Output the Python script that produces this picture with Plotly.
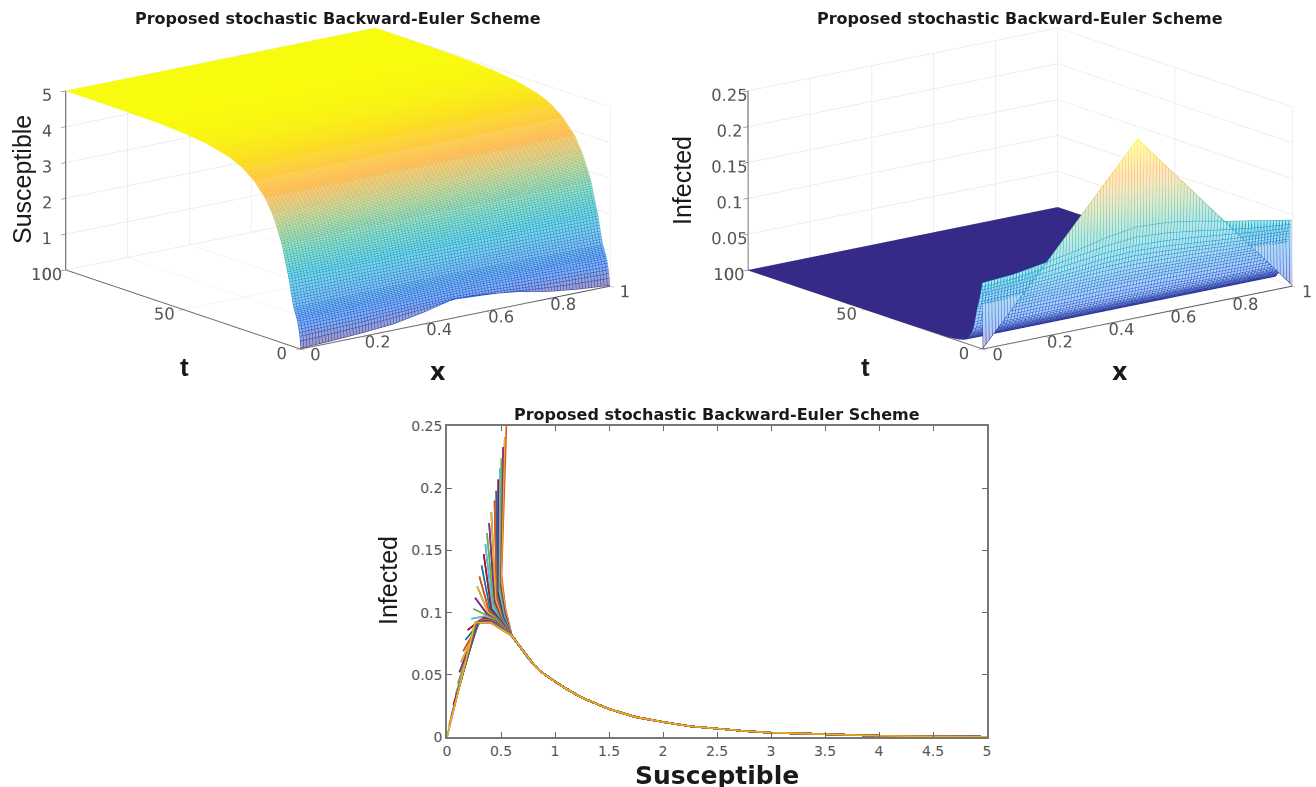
import plotly.graph_objects as go

# ---------- data ----------
x_grid = [0, .1, .2, .3, .4, .5, .6, .7, .8, .9, 1]
t_S = [0, .25, .5, 1, 1.5, 2, 3, 4, 5, 6, 8, 10, 12, 15, 20, 25, 30, 40, 50, 60, 75, 100]
susceptible = [
    [.02, .05, .10, .17, .33, .54, .48, .37, .20, .09, .02],
    [.26, .29, .33, .38, .44, .50, .45, .39, .33, .29, .26],
    [.40, .42, .44, .48, .52, .54, .52, .48, .44, .42, .40],
    [.62, .63, .65, .67, .69, .70, .69, .67, .65, .63, .62],
    [.78, .79, .80, .81, .83, .84, .83, .81, .80, .79, .78],
    [.88, .89, .90, .92, .94, .95, .94, .92, .90, .89, .88],
    [1.10, 1.10, 1.12, 1.13, 1.14, 1.15, 1.14, 1.13, 1.12, 1.10, 1.10],
    [1.45, 1.45, 1.46, 1.46, 1.47, 1.47, 1.47, 1.46, 1.46, 1.45, 1.45],
    [1.85, 1.85, 1.85, 1.85, 1.86, 1.86, 1.86, 1.85, 1.85, 1.85, 1.85],
    [2.15, 2.15, 2.15, 2.15, 2.15, 2.15, 2.15, 2.15, 2.15, 2.15, 2.15],
    [2.75, 2.75, 2.75, 2.75, 2.75, 2.75, 2.75, 2.75, 2.75, 2.75, 2.75],
    [3.15, 3.15, 3.15, 3.15, 3.15, 3.15, 3.15, 3.15, 3.15, 3.15, 3.15],
    [3.50, 3.50, 3.50, 3.50, 3.50, 3.50, 3.50, 3.50, 3.50, 3.50, 3.50],
    [3.87, 3.87, 3.87, 3.87, 3.87, 3.87, 3.87, 3.87, 3.87, 3.87, 3.87],
    [4.27, 4.27, 4.27, 4.27, 4.27, 4.27, 4.27, 4.27, 4.27, 4.27, 4.27],
    [4.52, 4.52, 4.52, 4.52, 4.52, 4.52, 4.52, 4.52, 4.52, 4.52, 4.52],
    [4.68, 4.68, 4.68, 4.68, 4.68, 4.68, 4.68, 4.68, 4.68, 4.68, 4.68],
    [4.85, 4.85, 4.85, 4.85, 4.85, 4.85, 4.85, 4.85, 4.85, 4.85, 4.85],
    [4.93, 4.93, 4.93, 4.93, 4.93, 4.93, 4.93, 4.93, 4.93, 4.93, 4.93],
    [4.97, 4.97, 4.97, 4.97, 4.97, 4.97, 4.97, 4.97, 4.97, 4.97, 4.97],
    [4.99, 4.99, 4.99, 4.99, 4.99, 4.99, 4.99, 4.99, 4.99, 4.99, 4.99],
    [5, 5, 5, 5, 5, 5, 5, 5, 5, 5, 5],
]
t_I = [0, .25, .5, .75, 1, 1.25, 1.5, 2, 2.5, 3, 3.5, 4, 4.5, 5, 6, 7, 8, 10, 12, 15, 20, 30, 40, 100]
infected = [
    [0, .05, .10, .15, .20, .25, .20, .15, .10, .05, 0],
    [.092, .095, .102, .110, .120, .1265, .124, .117, .108, .100, .092],
    [.086, .088, .094, .101, .108, .112, .109, .103, .096, .090, .086],
    [.081, .083, .087, .093, .098, .100, .098, .094, .089, .084, .081],
    [.076, .078, .081, .085, .090, .092, .090, .086, .082, .079, .076],
    [.072, .073, .076, .079, .083, .085, .083, .080, .077, .074, .072],
    [.068, .069, .071, .074, .077, .078, .077, .075, .072, .070, .068],
    [.060, .060, .062, .064, .065, .066, .065, .064, .062, .061, .060],
    [.053, .053, .054, .055, .056, .056, .056, .055, .054, .053, .053],
    [.044, .044, .045, .046, .047, .047, .047, .046, .045, .044, .044],
    [.034, .034, .035, .035, .036, .036, .036, .035, .035, .034, .034],
    [.026, .026, .026, .027, .027, .027, .027, .027, .026, .026, .026],
    [.021, .021, .021, .021, .021, .021, .021, .021, .021, .021, .021],
    [.017, .017, .017, .017, .017, .017, .017, .017, .017, .017, .017],
    [.011, .011, .011, .011, .011, .011, .011, .011, .011, .011, .011],
    [.006, .006, .006, .006, .006, .006, .006, .006, .006, .006, .006],
    [.0045, .0045, .0045, .0045, .0045, .0045, .0045, .0045, .0045, .0045, .0045],
    [.0025, .0025, .0025, .0025, .0025, .0025, .0025, .0025, .0025, .0025, .0025],
    [.0015, .0015, .0015, .0015, .0015, .0015, .0015, .0015, .0015, .0015, .0015],
    [.0008, .0008, .0008, .0008, .0008, .0008, .0008, .0008, .0008, .0008, .0008],
    [.0003, .0003, .0003, .0003, .0003, .0003, .0003, .0003, .0003, .0003, .0003],
    [.0001, .0001, .0001, .0001, .0001, .0001, .0001, .0001, .0001, .0001, .0001],
    [0, 0, 0, 0, 0, 0, 0, 0, 0, 0, 0],
    [0, 0, 0, 0, 0, 0, 0, 0, 0, 0, 0],
]
# phase plot: start of each line, two following points, then a shared tail
S_start = [0, .02, .04, .06, .08, .10, .115, .13, .15, .17, .19, .225, .245, .26, .28, .30, .32, .34, .355, .37, .39, .41, .44, .455, .475, .49, .505, .52, .535, .55]
I_start = [0, .009, .017, .026, .034, .043, .052, .060, .069, .078, .086, .095, .103, .112, .121, .129, .138, .147, .155, .164, .172, .181, .190, .198, .207, .216, .224, .233, .241, .25]
S_next = [.26, .27, .28, .29, .295, .30, .305, .31, .32, .33, .34, .35, .36, .37, .38, .39, .40, .41, .42, .43, .44, .45, .46, .465, .47, .48, .485, .49, .50, .505]
I_next = [.092, .092, .092, .093, .093, .093, .094, .094, .095, .095, .096, .097, .098, .099, .10, .101, .102, .103, .105, .107, .109, .111, .113, .115, .117, .119, .122, .125, .128, .13]
S_third = [.40, .405, .41, .415, .42, .425, .43, .435, .44, .445, .45, .455, .46, .465, .47, .475, .48, .485, .49, .495, .50, .505, .51, .515, .52, .525, .53, .535, .54, .54]
I_third = [.092, .092, .092, .092, .092, .092, .093, .093, .093, .093, .093, .093, .094, .094, .094, .094, .095, .095, .095, .095, .096, .096, .096, .097, .097, .098, .098, .10, .102, .104]
S_tail = [.6, .65, .7, .75, .8, .85, .9, 1, 1.1, 1.25, 1.5, 1.75, 2, 2.25, 2.5, 2.75, 3, 3.5, 4, 4.5, 5]
I_tail = [.0815, .0755, .0695, .0635, .0585, .054, .0505, .0445, .039, .0315, .0225, .016, .012, .0087, .0065, .0048, .0035, .002, .001, .0004, .0001]

x_ticks = [0, .2, .4, .6, .8, 1]
x_labels = ['0', '0.2', '0.4', '0.6', '0.8', '1']
t_ticks = [0, 50, 100]
S_ticks = [0, 1, 2, 3, 4, 5]
I_ticks = [0, .05, .1, .15, .2, .25]
I_labels = ['0', '0.05', '0.1', '0.15', '0.2', '0.25']
phase_ticks = [0, .5, 1, 1.5, 2, 2.5, 3, 3.5, 4, 4.5, 5]
phase_labels = ['0', '0.5', '1', '1.5', '2', '2.5', '3', '3.5', '4', '4.5', '5']
TITLE = 'Proposed stochastic Backward-Euler Scheme'

parula = [[0, '#352a87'], [.125, '#0f5cdd'], [.25, '#1481d6'], [.375, '#06a4ca'], [.5, '#2eb7a4'],
          [.625, '#87bf77'], [.72, '#d1bb59'], [.8, '#fdb338'], [.9, '#fcd52a'], [1, '#f9fb0e']]
matlab = ['#0072BD', '#D95319', '#EDB120', '#7E2F8E', '#77AC30', '#4DBEEE', '#A2142F']
FONT = 'Liberation Sans'
WIDE = 'DejaVu Sans'
W, H = 1316, 787


def tint(scale, keep):
    # the white faces of the fine mesh, seen through its thin lines: colour mixed with white
    out = []
    for pos, col in scale:
        rgb = [int(col[i:i + 2], 16) for i in (1, 3, 5)]
        out.append([pos, 'rgb(%d,%d,%d)' % tuple(round(255 + (c - 255) * keep) for c in rgb)])
    return out


fig = go.Figure()


def mesh(z, t, scene, zmax, dt, keep):
    flat = dict(ambient=1, diffuse=0, specular=0, roughness=1, fresnel=0)
    fig.add_trace(go.Surface(x=x_grid, y=t, z=z, scene=scene, colorscale=tint(parula, keep), cmin=0, cmax=zmax,
                             showscale=False, lighting=flat, hoverinfo='skip'))
    fig.add_trace(go.Surface(
        x=x_grid, y=t, z=z, scene=scene, colorscale=parula, cmin=0, cmax=zmax, showscale=False,
        hidesurface=True, hoverinfo='skip', lighting=flat,
        contours=dict(
            x=dict(show=True, usecolormap=True, start=.0005, end=1, size=.01, width=2, highlight=False),
            y=dict(show=True, usecolormap=True, start=.002, end=100, size=dt, width=2, highlight=False),
            z=dict(show=False, highlight=False))))


mesh(susceptible, t_S, 'scene', 5, .2, .48)
mesh(infected, t_I, 'scene2', .25, .25, .3)

n = len(S_start)
for k in range(2 * n - 1):
    j = min(k, 2 * n - 2 - k)
    xs = [S_start[j], S_next[j], S_third[j]] + S_tail
    ys = [I_start[j], I_next[j], I_third[j]] + I_tail
    fig.add_trace(go.Scatter(x=xs, y=ys, mode='lines', showlegend=False, hoverinfo='skip',
                             line=dict(color=matlab[k % 7], width=1.6)))


def axis3d(vals, labels=None, rng=None):
    d = dict(tickmode='array', tickvals=vals, range=rng, title=dict(text=''), showbackground=False,
             showgrid=True, gridcolor='#dedede', gridwidth=1, showline=True, linecolor='#555555',
             linewidth=2, ticks='outside', ticklen=6, tickcolor='#555555', zeroline=False, tickangle=0,
             showspikes=False, tickfont=dict(family=WIDE, size=14, color='#555555'))
    if labels:
        d['ticktext'] = labels
    return d


EYE = (-.592, -.762, .2615)
DIST = 1.5


def camera(shift=0.0):
    # shift moves the look-at point sideways so the picture lands where the domain needs it
    cx, cy = -.79 * shift, .613 * shift
    return dict(eye=dict(x=EYE[0] * DIST + cx, y=EYE[1] * DIST + cy, z=EYE[2] * DIST),
                up=dict(x=0, y=0, z=1), center=dict(x=cx, y=cy, z=0),
                projection=dict(type='orthographic'))


common = dict(aspectmode='manual', aspectratio=dict(x=2.08, y=2.03, z=.985), bgcolor='white')
fig.update_layout(
    width=W, height=H, margin=dict(l=0, r=0, t=0, b=0, autoexpand=False), paper_bgcolor='white',
    plot_bgcolor='white', showlegend=False,
    scene=dict(domain=dict(x=[12 / W, 664 / W], y=[1 - 377 / H, 1]), camera=camera(),
               xaxis=axis3d(x_ticks, x_labels, [0, 1]),
               yaxis=axis3d(t_ticks, None, [0, 100]), zaxis=axis3d(S_ticks, None, [0, 5]), **common),
    scene2=dict(domain=dict(x=[680 / W, 1], y=[1 - 377 / H, 1]), camera=camera(.118),
                xaxis=axis3d(x_ticks, x_labels, [0, 1]),
                yaxis=axis3d(t_ticks, None, [0, 100]), zaxis=axis3d(I_ticks, I_labels, [0, .25]), **common),
    xaxis=dict(domain=[447 / W, 987 / W], range=[0, 5], tickmode='array', tickvals=phase_ticks,
               ticktext=phase_labels, ticks='inside', ticklen=5, tickcolor='#666666', showline=True,
               linecolor='#777777', linewidth=1.5, mirror='ticks', showgrid=False, zeroline=False,
               tickfont=dict(family=WIDE, size=14, color='#555555')),
    yaxis=dict(domain=[1 - 737 / H, 1 - 426 / H], range=[0, .25], tickmode='array', tickvals=I_ticks,
               ticktext=I_labels, ticks='inside', ticklen=5, tickcolor='#666666', showline=True,
               linecolor='#777777', linewidth=1.5, mirror='ticks', showgrid=False, zeroline=False,
               tickfont=dict(family=WIDE, size=14, color='#555555')),
)


def label(px, py, text, size, bold=True, angle=0, family=FONT):
    t = f'<b>{text}</b>' if bold else text
    fig.add_annotation(x=px / W, y=1 - py / H, xref='paper', yref='paper', text=t, showarrow=False,
                       xanchor='center', yanchor='middle', textangle=angle,
                       font=dict(family=family, size=size, color='#1a1a1a'))


label(338, 18, TITLE, 16, family=WIDE)
label(1020, 18, TITLE, 16, family=WIDE)
label(717, 414, TITLE, 16, family=WIDE)
label(22, 180, 'Susceptible', 25, False, -90)
label(682, 180, 'Infected', 25, False, -90)
label(388, 581, 'Infected', 25, False, -90)
label(184, 367, 't', 26)
label(438, 372, 'x', 24, family=WIDE)
label(865, 367, 't', 26)
label(1120, 372, 'x', 24, family=WIDE)
label(717, 775, 'Susceptible', 25, family=WIDE)

fig.write_html('out.html', config=dict(displayModeBar=False),
               post_script="document.body.style.margin='0';document.body.style.overflow='hidden';")
